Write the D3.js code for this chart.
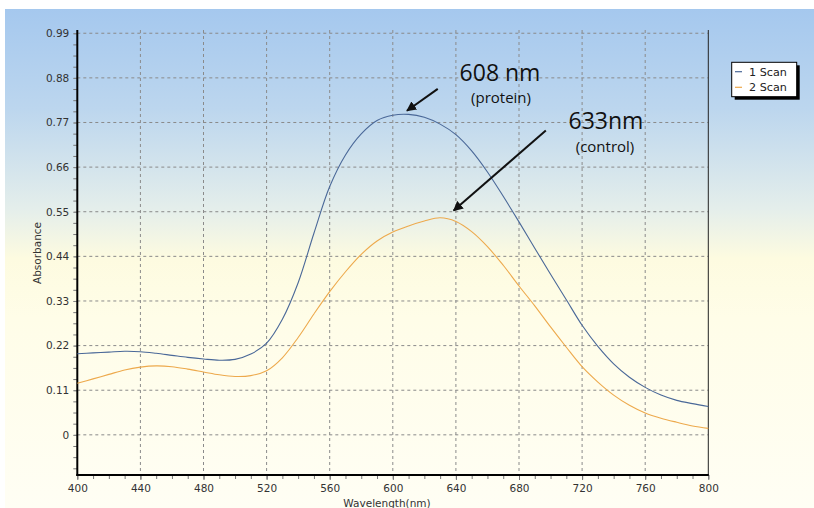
<!DOCTYPE html>
<html><head><meta charset="utf-8">
<script src="https://cdn.jsdelivr.net/npm/d3@7"></script>
<style>body{margin:0;background:#fff}svg{display:block}</style>
</head><body><svg id="c" width="814" height="508"></svg>
<script>
const wavelengths = [400,410,420,430,440,450,460,470,480,490,500,510,520,530,540,550,560,570,580,590,600,610,620,630,640,650,660,670,680,690,700,710,720,730,740,750,760,770,780,790,800];
const scan1 = [0.200,0.202,0.204,0.206,0.205,0.201,0.196,0.191,0.187,0.184,0.186,0.199,0.226,0.285,0.375,0.497,0.612,0.690,0.742,0.775,0.788,0.790,0.783,0.766,0.740,0.700,0.648,0.588,0.525,0.460,0.396,0.333,0.270,0.218,0.175,0.142,0.117,0.098,0.085,0.077,0.070];
const scan2 = [0.127,0.138,0.149,0.160,0.167,0.170,0.168,0.162,0.155,0.148,0.144,0.146,0.158,0.190,0.240,0.298,0.353,0.402,0.445,0.478,0.500,0.515,0.527,0.535,0.526,0.501,0.464,0.418,0.367,0.318,0.266,0.216,0.168,0.130,0.098,0.073,0.054,0.041,0.031,0.022,0.016];
const seriesNames = ["1 Scan","2 Scan"];
const xTicks = [400,440,480,520,560,600,640,680,720,760,800];
const yTicks = [0,0.11,0.22,0.33,0.44,0.55,0.66,0.77,0.88,0.99];
const yTickLabels = ["0","0.11","0.22","0.33","0.44","0.55","0.66","0.77","0.88","0.99"];
const annotations = [
  {title:"608 nm", sub:"(protein)", tx:500, ty:80.7, sx:501, sy:103, from:[628.5,0.853], to:[609,0.799]},
  {title:"633nm", sub:"(control)", tx:606, ty:129.3, sx:605, sy:151.7, from:[697,0.750], to:[638.6,0.553]}
];

const svg = d3.select("#c");
const W=814,H=508;
const L=77.3,R=708.3,T=30,B=475;
const x = d3.scaleLinear().domain([400,800]).range([L,R]);
const y = d3.scaleLinear().domain([-0.099,0.998]).range([B,T]);
const colors = ["#4a6898","#eda94c"];

const defs = svg.append("defs");
const g = defs.append("linearGradient").attr("id","bg").attr("x1",0).attr("y1",0).attr("x2",0).attr("y2",1);
[[0,"#a5c8ee"],[0.2,"#bcd6ee"],[0.4,"#e4eeeb"],[0.5,"#fdfbe0"],[0.62,"#fffde8"],[1,"#fffef4"]].forEach(s=>g.append("stop").attr("offset",s[0]).attr("stop-color",s[1]));
const mk = defs.append("marker").attr("id","ah").attr("viewBox","0 0 10 10").attr("refX",9).attr("refY",5)
  .attr("markerWidth",5).attr("markerHeight",5).attr("orient","auto");
mk.append("path").attr("d","M0,0L10,5L0,10z").attr("fill","#111");

svg.append("rect").attr("x",0).attr("y",0).attr("width",W).attr("height",H).attr("fill","#fff");
svg.append("rect").attr("x",5).attr("y",9).attr("width",W-5).attr("height",H-9).attr("fill","url(#bg)");

// grid
svg.append("g").selectAll("line").data(xTicks.slice(1,-1)).join("line")
  .attr("x1",d=>x(d)).attr("x2",d=>x(d)).attr("y1",T).attr("y2",B)
  .attr("stroke","#8a8a8a").attr("stroke-dasharray","3,3");
svg.append("g").selectAll("line").data(yTicks).join("line")
  .attr("x1",L).attr("x2",R).attr("y1",d=>y(d)).attr("y2",d=>y(d))
  .attr("stroke","#8a8a8a").attr("stroke-dasharray","3,3");

// axes
const xMinor = d3.range(400,801,10);
const yMinor = d3.range(-0.0825,0.998,0.0275);
const xa = svg.append("g").attr("transform",`translate(0,${B})`)
  .call(d3.axisBottom(x).tickValues(xMinor).tickSize(4).tickFormat(""));
xa.select(".domain").remove();
xa.selectAll("line").attr("stroke","#777");
const xb = svg.append("g").attr("transform",`translate(0,${B})`)
  .call(d3.axisBottom(x).tickValues(xTicks).tickSize(5).tickPadding(5).tickFormat(d3.format("d")));
xb.select(".domain").remove();
xb.selectAll("line").attr("stroke","#777");
xb.selectAll("text").attr("font-family","DejaVu Sans").attr("font-size",10.5).attr("fill","#333");

const ya = svg.append("g").attr("transform",`translate(${L},0)`)
  .call(d3.axisLeft(y).tickValues(yMinor).tickSize(4).tickFormat(""));
ya.select(".domain").remove();
ya.selectAll("line").attr("stroke","#777");
const yb = svg.append("g").attr("transform",`translate(${L},0)`)
  .call(d3.axisLeft(y).tickValues(yTicks).tickSize(6).tickPadding(2).tickFormat((d,i)=>yTickLabels[i]));
yb.select(".domain").remove();
yb.selectAll("line").attr("stroke","#888").attr("stroke-dasharray","3,3");
yb.selectAll("text").attr("font-family","DejaVu Sans").attr("font-size",10.5).attr("fill","#333");

svg.append("line").attr("x1",R).attr("x2",R).attr("y1",T).attr("y2",B).attr("stroke","#222").attr("stroke-width",1);
svg.append("line").attr("x1",L).attr("x2",L).attr("y1",T).attr("y2",B+1).attr("stroke","#000").attr("stroke-width",2);
svg.append("line").attr("x1",L-1).attr("x2",R+0.5).attr("y1",B).attr("y2",B).attr("stroke","#000").attr("stroke-width",2);

// labels
svg.append("text").attr("x",387).attr("y",507).attr("text-anchor","middle")
  .attr("font-family","DejaVu Sans").attr("font-size",10.5).attr("fill","#333").text("Wavelength(nm)");
svg.append("text").attr("transform","translate(41,253) rotate(-90)").attr("text-anchor","middle")
  .attr("font-family","DejaVu Sans").attr("font-size",10.5).attr("fill","#333").text("Absorbance");

// lines
const line = d3.line().x((d,i)=>x(wavelengths[i])).y(d=>y(d)).curve(d3.curveCatmullRom.alpha(0.5));
[scan1,scan2].forEach((s,i)=>svg.append("path").attr("d",line(s)).attr("fill","none").attr("stroke",colors[i]).attr("stroke-width",1.1));

// annotations
annotations.forEach(a=>{
  svg.append("line").attr("x1",x(a.from[0])).attr("y1",y(a.from[1])).attr("x2",x(a.to[0])).attr("y2",y(a.to[1]))
    .attr("stroke","#111").attr("stroke-width",2).attr("marker-end","url(#ah)");
  svg.append("text").attr("x",a.tx).attr("y",a.ty).attr("text-anchor","middle")
    .attr("font-family","Open Sans").attr("font-size",23).attr("fill","#111").text(a.title);
  svg.append("text").attr("x",a.sx).attr("y",a.sy).attr("text-anchor","middle")
    .attr("font-family","Open Sans").attr("font-size",15).attr("fill","#111").text(a.sub);
});

// legend
const lg = svg.append("g");
lg.append("rect").attr("x",734.7).attr("y",65.3).attr("width",65).attr("height",34.4).attr("fill","#000");
lg.append("rect").attr("x",731.7).attr("y",62.3).attr("width",65).attr("height",34.4).attr("fill","#fff").attr("stroke","#000");
seriesNames.forEach((n,i)=>{
  const yy = 71.7 + i*15.6;
  lg.append("line").attr("x1",735).attr("x2",742).attr("y1",yy).attr("y2",yy).attr("stroke",colors[i]).attr("stroke-width",1.2);
  lg.append("text").attr("x",749).attr("y",yy+4).attr("font-family","DejaVu Sans").attr("font-size",11.2).attr("fill","#222").text(n);
});
</script></body></html>
